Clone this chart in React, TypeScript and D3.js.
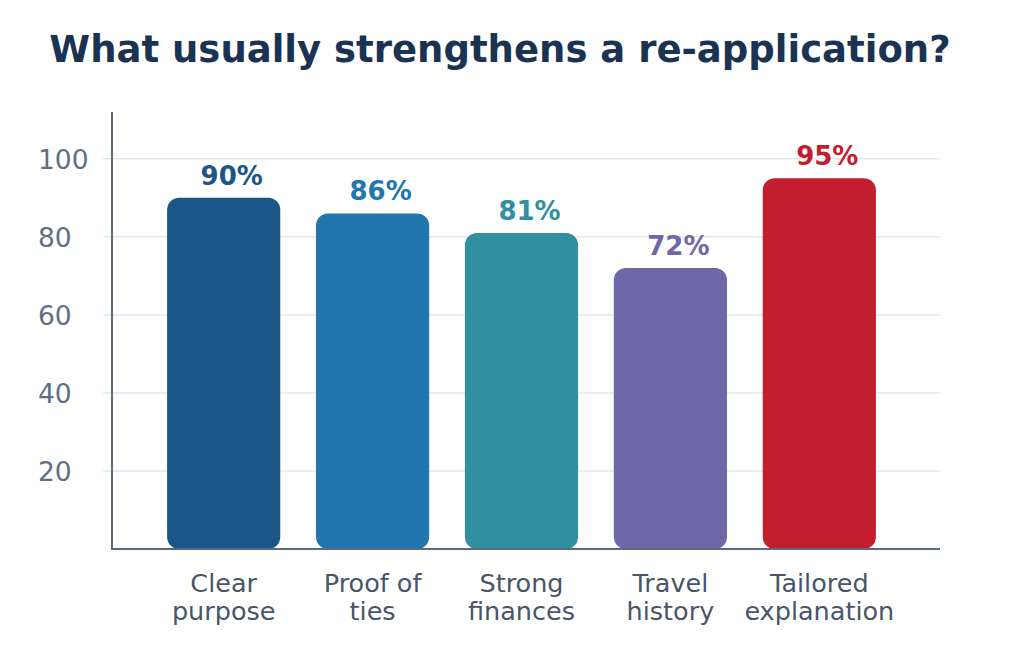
import { useEffect, useRef } from 'react'
import * as d3 from 'd3'

const categories = [
  ['Clear', 'purpose'],
  ['Proof of', 'ties'],
  ['Strong', 'finances'],
  ['Travel', 'history'],
  ['Tailored', 'explanation'],
]
const values = [90, 86, 81, 72, 95]
const colors = ['#1b5689', '#2176ae', '#3190a0', '#6e67a8', '#c21e2e']
const yTicks = [20, 40, 60, 80, 100]

const width = 1024
const height = 652
const font = 'DejaVu Sans, sans-serif'

export default function App() {
  const svgRef = useRef<SVGSVGElement>(null)

  useEffect(() => {
    if (!svgRef.current) return
    const svg = d3.select(svgRef.current)
    svg.selectAll('*').remove()

    const left = 112
    const right = 940
    const top = 112
    const bottom = 549

    const x = d3.scaleBand<number>()
      .domain(d3.range(values.length))
      .range([left, 931])
      .paddingInner(0.24)
      .paddingOuter(0.37)

    const y = d3.scaleLinear().domain([0, 112]).range([bottom, top])

    // Title
    svg.append('text')
      .attr('x', 500)
      .attr('y', 62)
      .attr('text-anchor', 'middle')
      .attr('font-family', font)
      .attr('font-size', 37)
      .attr('font-weight', 'bold')
      .attr('fill', '#1b3352')
      .text('What usually strengthens a re-application?')

    // Grid lines
    svg.append('g')
      .selectAll('line')
      .data(yTicks)
      .join('line')
      .attr('x1', 103)
      .attr('x2', right)
      .attr('y1', d => y(d))
      .attr('y2', d => y(d))
      .attr('stroke', '#e3e8ee')
      .attr('stroke-width', 1.5)

    // Y tick labels
    svg.append('g')
      .selectAll('text')
      .data(yTicks)
      .join('text')
      .attr('x', 38)
      .attr('y', d => y(d) + 10)
      .attr('font-family', font)
      .attr('font-size', 26.5)
      .attr('fill', '#5e7085')
      .text(d => d)

    // Bars
    svg.append('g')
      .selectAll('rect')
      .data(values)
      .join('rect')
      .attr('x', (_, i) => x(i)!)
      .attr('y', d => y(d))
      .attr('width', x.bandwidth())
      .attr('height', d => bottom - y(d))
      .attr('rx', 12)
      .attr('fill', (_, i) => colors[i])

    // Value labels (sit slightly right of bar centre)
    svg.append('g')
      .selectAll('text')
      .data(values)
      .join('text')
      .attr('x', (_, i) => x(i)! + x.bandwidth() / 2 + 8)
      .attr('y', d => y(d) - 13)
      .attr('text-anchor', 'middle')
      .attr('font-family', font)
      .attr('font-size', 26)
      .attr('font-weight', 'bold')
      .attr('fill', (_, i) => colors[i])
      .text(d => `${d}%`)

    // Axes lines
    svg.append('line')
      .attr('x1', left).attr('x2', left)
      .attr('y1', top).attr('y2', bottom)
      .attr('stroke', '#5a6b7f').attr('stroke-width', 2)
    svg.append('line')
      .attr('x1', left - 1).attr('x2', right)
      .attr('y1', bottom).attr('y2', bottom)
      .attr('stroke', '#5a6b7f').attr('stroke-width', 2)

    // Category labels
    const cat = svg.append('g')
      .selectAll('text')
      .data(categories)
      .join('text')
      .attr('text-anchor', 'middle')
      .attr('font-family', font)
      .attr('font-size', 25.5)
      .attr('fill', '#4a5568')
    cat.each(function (lines, i) {
      const t = d3.select(this)
      lines.forEach((line, j) => {
        t.append('tspan')
          .attr('x', x(i)! + x.bandwidth() / 2)
          .attr('y', 592 + j * 28)
          .text(line)
      })
    })
  }, [])

  return (
    <svg
      ref={svgRef}
      width={width}
      height={height}
      style={{ position: 'absolute', left: 0, top: 0, background: '#fff' }}
    />
  )
}
